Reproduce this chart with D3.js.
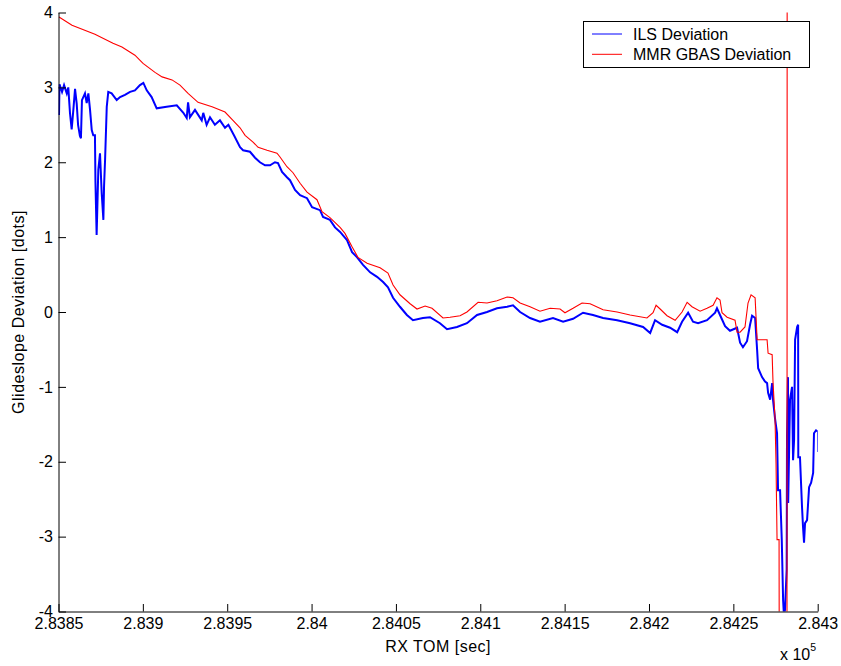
<!DOCTYPE html>
<html>
<head>
<meta charset="utf-8">
<script src="https://cdn.jsdelivr.net/npm/d3@7"></script>
<style>
  body { margin: 0; background: #fff; }
  svg { display: block; }
  text { font-family: "Liberation Sans", Arial, Helvetica, sans-serif; fill: #000; }
</style>
</head>
<body>
<svg id="chart" width="841" height="666"></svg>
<script>
// ---- Data (time in seconds, deviation in dots) ----
const ilsTime = [
  283850.3, 283850.6, 283852.1, 283853.3, 283854.9, 283855.8, 283856.8, 283857.8, 283858.8, 283859.8,
  283860.8, 283861.6, 283862.7, 283863.3, 283863.9, 283865.7, 283866.7, 283867.7, 283868.7, 283869.7,
  283870.6, 283871.6, 283871.9, 283872.6, 283873.6, 283874.6, 283875.6, 283876.6, 283877.0, 283877.6,
  283878.6, 283879.5, 283881.5, 283884.5, 283886.5, 283889.4, 283892.4, 283895.3, 283898.3, 283900.3,
  283902.3, 283905.2, 283908.2, 283914.1, 283920.1, 283924.0, 283926.0, 283926.8, 283927.9, 283930.9,
  283934.9, 283935.8, 283937.8, 283939.8, 283942.7, 283945.7, 283948.7, 283950.7, 283954.0, 283957.6,
  283959.4, 283963.5, 283966.5, 283969.4, 283972.4, 283975.4, 283978.3, 283980.1, 283982.5, 283985.4,
  283987.2, 283990.2, 283993.2, 283997.3, 284000.3, 284005.0, 284006.8, 284010.9, 284013.9, 284016.9,
  284021.0, 284024.0, 284027.0, 284030.5, 284034.7, 284038.8, 284042.4, 284045.3, 284048.3, 284052.4,
  284056.5, 284060.1, 284066.0, 284070.2, 284076.1, 284080.3, 284086.2, 284092.1, 284098.1, 284104.0,
  284109.9, 284115.9, 284119.4, 284123.6, 284129.5, 284135.4, 284143.1, 284149.1, 284155.0, 284160.9,
  284166.8, 284172.8, 284181.1, 284188.8, 284196.5, 284200.7, 284203.6, 284207.8, 284212.5, 284216.7,
  284219.6, 284223.2, 284226.1, 284229.1, 284234.4, 284239.2, 284240.3, 284242.7, 284245.1, 284248.0,
  284252.2, 284254.0, 284255.7, 284258.1, 284259.9, 284261.1, 284262.9, 284264.1, 284264.7, 284267.0,
  284268.8, 284270.0, 284270.6, 284271.8, 284273.0, 284273.5, 284274.7, 284275.9, 284276.5, 284277.7,
  284278.7, 284279.5, 284280.0, 284280.6, 284281.6, 284281.8, 284282.4, 284282.5, 284283.6, 284284.8,
  284285.4, 284286.0, 284286.6, 284287.8, 284288.4, 284288.5, 284289.5, 284290.7, 284291.3, 284291.9,
  284292.5, 284293.7, 284294.9, 284296.1, 284297.3, 284297.8, 284299.0, 284300.2, 284300.3
];
const ilsDeviation = [
  2.63, 3.04, 2.94, 3.03, 2.92, 3.00, 2.66, 2.44, 2.70, 2.98,
  2.78, 2.50, 2.35, 2.32, 2.83, 2.92, 2.79, 2.92, 2.70, 2.43,
  2.36, 2.36, 1.74, 1.03, 1.90, 2.12, 1.59, 1.23, 1.68, 2.03,
  2.74, 2.94, 2.92, 2.83, 2.87, 2.90, 2.94, 2.96, 3.03, 3.06,
  2.96, 2.87, 2.72, 2.74, 2.76, 2.66, 2.59, 2.80, 2.60, 2.70,
  2.56, 2.66, 2.50, 2.60, 2.50, 2.56, 2.46, 2.50, 2.36, 2.20,
  2.16, 2.14, 2.06, 2.00, 1.96, 1.96, 2.00, 1.99, 1.87, 1.80,
  1.76, 1.63, 1.56, 1.52, 1.40, 1.36, 1.27, 1.23, 1.13, 1.07,
  0.96, 0.80, 0.73, 0.63, 0.53, 0.47, 0.40, 0.33, 0.19, 0.07,
  -0.04, -0.11, -0.08, -0.07, -0.15, -0.23, -0.20, -0.15, -0.04, 0.00,
  0.05, 0.07, 0.09, 0.00, -0.08, -0.13, -0.08, -0.13, -0.09, -0.01,
  -0.04, -0.08, -0.11, -0.15, -0.20, -0.28, -0.11, -0.17, -0.21, -0.27,
  -0.13, -0.01, -0.13, -0.15, -0.11, -0.01, 0.05, -0.07, -0.19, -0.25,
  -0.21, -0.41, -0.47, -0.39, -0.17, -0.05, -0.08, -0.51, -0.75, -0.87,
  -0.93, -0.95, -1.08, -1.17, -0.95, -1.17, -1.42, -1.62, -2.38, -2.38,
  -3.04, -3.85, -4.06, -3.98, -3.44, -1.67, -0.87, -2.55, -1.17, -1.00,
  -1.98, -1.71, -0.37, -0.20, -0.17, -1.94, -1.94, -2.60, -2.87, -3.08,
  -2.82, -2.78, -2.34, -2.28, -2.15, -1.62, -1.58, -1.60, -1.87
];
const mmrTime = [
  283850.3, 283858.0, 283871.6, 283882.3, 283887.6, 283895.3, 283900.1, 283907.2, 283911.4, 283917.3,
  283922.0, 283926.8, 283932.7, 283941.0, 283948.7, 283953.4, 283957.6, 283960.6, 283965.3, 283968.3,
  283973.6, 283979.5, 283981.3, 283985.4, 283989.0, 283993.2, 283997.3, 284003.2, 284006.2, 284010.9,
  284016.9, 284019.8, 284024.0, 284027.5, 284032.9, 284040.6, 284045.3, 284048.3, 284052.4, 284058.4,
  284062.5, 284067.3, 284071.4, 284077.9, 284082.1, 284088.0, 284092.1, 284098.7, 284104.0, 284109.9,
  284115.9, 284119.4, 284123.6, 284129.5, 284135.4, 284141.4, 284147.3, 284150.2, 284155.0, 284160.3,
  284165.1, 284172.8, 284181.1, 284188.8, 284198.8, 284202.4, 284204.2, 284206.6, 284210.7, 284215.5,
  284219.6, 284222.6, 284225.5, 284230.3, 284234.4, 284238.0, 284240.3, 284242.1, 284243.3, 284246.3,
  284251.0, 284252.2, 284254.0, 284256.9, 284258.7, 284260.5, 284262.9, 284264.1, 284270.0, 284270.6,
  284273.0, 284273.5, 284274.7, 284275.3, 284275.9, 284277.1, 284277.2, 284281.8, 284281.9
];
const mmrDeviation = [
  3.94, 3.83, 3.71, 3.59, 3.54, 3.43, 3.32, 3.20, 3.14, 3.10,
  3.03, 2.92, 2.80, 2.74, 2.67, 2.56, 2.46, 2.36, 2.27, 2.20,
  2.16, 2.12, 2.07, 1.94, 1.86, 1.72, 1.60, 1.50, 1.34, 1.26,
  1.13, 1.05, 0.87, 0.73, 0.65, 0.59, 0.52, 0.36, 0.23, 0.11,
  0.04, 0.08, 0.05, -0.08, -0.07, -0.05, 0.00, 0.13, 0.12, 0.15,
  0.20, 0.19, 0.12, 0.07, 0.01, 0.05, 0.04, -0.01, 0.05, 0.12,
  0.11, 0.03, 0.00, -0.04, -0.08, -0.01, 0.09, 0.04, -0.05, -0.11,
  0.00, 0.13, 0.07, 0.01, 0.05, 0.09, 0.19, 0.16, -0.01, -0.07,
  -0.11, -0.27, -0.27, -0.20, 0.12, 0.23, 0.19, -0.37, -0.37, -0.55,
  -0.57, -0.93, -1.42, -2.02, -3.04, -3.04, -4.50, -4.50, 4.50
];
const xTicks = [283850, 283900, 283950, 284000, 284050, 284100, 284150, 284200, 284250, 284300];
const xTickLabels = ["2.8385", "2.839", "2.8395", "2.84", "2.8405", "2.841", "2.8415", "2.842", "2.8425", "2.843"];
const yTicks = [-4, -3, -2, -1, 0, 1, 2, 3, 4];
const yTickLabels = ["-4", "-3", "-2", "-1", "0", "1", "2", "3", "4"];
const seriesNames = ["ILS Deviation", "MMR GBAS Deviation"];
const seriesColors = ["#0000ff", "#ff0000"];

// ---- Layout ----
const svg = d3.select("#chart");
const padL = 58.5, padR = 817.7, padT = 12.5, padB = 611.5;
const FS = 16;

const x = d3.scaleLinear().domain([283850, 284300]).range([padL, padR]);
const y = d3.scaleLinear().domain([-4, 4]).range([padB, padT]);

svg.append("defs").append("clipPath").attr("id", "plotclip")
  .append("rect").attr("x", padL).attr("y", padT).attr("width", padR - padL).attr("height", padB - padT);

const line = d3.line().x(d => x(d[0])).y(d => y(d[1]));
const ils = ilsTime.map((t, i) => [t, ilsDeviation[i]]);
const mmr = mmrTime.map((t, i) => [t, mmrDeviation[i]]);

const plot = svg.append("g").attr("clip-path", "url(#plotclip)");
plot.append("path").datum(ils).attr("d", line)
  .attr("fill", "none").attr("stroke", seriesColors[0]).attr("stroke-width", 2).attr("stroke-linejoin", "miter");
plot.append("path").datum(mmr).attr("d", line)
  .attr("fill", "none").attr("stroke", seriesColors[1]).attr("stroke-width", 1.1);

// ---- Axes ----
const xAxis = d3.axisBottom(x).tickValues(xTicks)
  .tickFormat((d, i) => xTickLabels[i]).tickSizeInner(-7.5).tickSizeOuter(0).tickPadding(6.3);
const gx = svg.append("g").attr("transform", `translate(0,${padB})`).call(xAxis);
const yAxis = d3.axisLeft(y).tickValues(yTicks)
  .tickFormat((d, i) => yTickLabels[i]).tickSizeInner(-7.5).tickSizeOuter(0).tickPadding(5.5);
const gy = svg.append("g").attr("transform", `translate(${padL},0)`).call(yAxis);
[gx, gy].forEach(g => {
  g.selectAll("text").attr("font-size", FS).attr("font-family", "Liberation Sans, Arial, sans-serif").attr("fill", "#000");
  g.selectAll("line").attr("stroke", "#000");
  g.select(".domain").attr("stroke", "#000");
});

// axis labels
svg.append("text").attr("x", (padL + padR) / 2).attr("y", 651.5)
  .attr("text-anchor", "middle").attr("font-size", FS).attr("letter-spacing", 0.5).text("RX TOM [sec]");
svg.append("text").attr("transform", `translate(23.5,${(padT + padB) / 2}) rotate(-90)`)
  .attr("text-anchor", "middle").attr("font-size", FS).attr("letter-spacing", 0.5).text("Glideslope Deviation [dots]");
const mult = svg.append("text").attr("x", 780).attr("y", 660).attr("font-size", FS);
mult.append("tspan").text("x 10");
mult.append("tspan").attr("dy", -9).attr("font-size", 10.5).text("5");

// ---- Legend ----
const lg = svg.append("g");
lg.append("rect").attr("x", 583.5).attr("y", 21.5).attr("width", 226).attr("height", 46)
  .attr("fill", "#fff").attr("stroke", "#000").attr("stroke-width", 1);
seriesNames.forEach((name, i) => {
  const yy = 34 + i * 20.3;
  lg.append("line").attr("x1", 592).attr("x2", 622).attr("y1", yy).attr("y2", yy)
    .attr("stroke", seriesColors[i]).attr("stroke-width", 1);
  lg.append("text").attr("x", 633).attr("y", yy + 5.5).attr("font-size", FS).text(name);
});
</script>
</body>
</html>
